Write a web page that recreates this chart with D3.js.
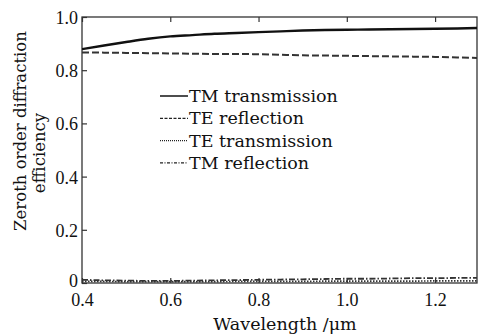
<!DOCTYPE html>
<html>
<head>
<meta charset="utf-8">
<script src="https://cdn.jsdelivr.net/npm/d3@7"></script>
<style>
  body { margin: 0; background: #fff; }
  svg { display: block; }
</style>
</head>
<body>
<div id="chart_area"></div>
<script>

// wavelength in um
var wavelength = [0.40, 0.45, 0.50, 0.55, 0.60, 0.65, 0.70, 0.75, 0.80, 0.85,
                  0.90, 0.95, 1.00, 1.05, 1.10, 1.15, 1.20, 1.25, 1.30];

var tm_transmission = [0.879, 0.893, 0.906, 0.918, 0.927, 0.932, 0.937, 0.940, 0.943, 0.946,
                       0.949, 0.951, 0.952, 0.953, 0.954, 0.955, 0.956, 0.957, 0.959];
var te_reflection   = [0.867, 0.866, 0.865, 0.864, 0.863, 0.862, 0.861, 0.861, 0.860, 0.858,
                       0.856, 0.855, 0.854, 0.853, 0.852, 0.851, 0.850, 0.848, 0.846];
var te_transmission = [0.006, 0.006, 0.005, 0.005, 0.005, 0.005, 0.005, 0.006, 0.006, 0.006,
                       0.006, 0.007, 0.007, 0.007, 0.007, 0.007, 0.008, 0.008, 0.008];
var tm_reflection   = [0.012, 0.010, 0.009, 0.008, 0.008, 0.009, 0.010, 0.011, 0.012, 0.013,
                       0.014, 0.015, 0.016, 0.016, 0.017, 0.018, 0.018, 0.019, 0.019];

var series_names = ["TM transmission", "TE reflection", "TE transmission", "TM reflection"];
var series_dash  = [null, "7,3", "1.5,1.5", "6,2,1.5,2"];
var series_width = [2.4, 2, 1.6, 1.8];
var series_vals  = [tm_transmission, te_reflection, te_transmission, tm_reflection];

var x_ticks = [0.4, 0.6, 0.8, 1.0, 1.2];
var y_ticks = [0, 0.2, 0.4, 0.6, 0.8, 1.0];

var num_font = "'Liberation Serif', 'Times New Roman', serif";
var word_font = "'DejaVu Serif', 'Liberation Serif', serif";

var frame_width = 479, frame_height = 336;
var margin = {top: 17, right: 2, bottom: 53, left: 82};
var canvas_width = frame_width - margin.left - margin.right;
var canvas_height = frame_height - margin.top - margin.bottom;

var frame = d3.select("#chart_area").append("svg")
  .attr("width", frame_width)
  .attr("height", frame_height);

var canvas = frame.append("g")
  .attr("transform", "translate(" + margin.left + "," + margin.top + ")");

var xScale = d3.scaleLinear().domain([0.4, 1.295]).range([0, canvas_width]);
var yScale = d3.scaleLinear().domain([0, 1]).range([canvas_height, 0]);

// axes, ticks pointing inward
var xAxis = d3.axisBottom(xScale).tickValues(x_ticks).tickSizeInner(-5).tickSizeOuter(0)
  .tickPadding(10).tickFormat(d3.format(".1f"));
var yAxis = d3.axisLeft(yScale).tickValues(y_ticks).tickSizeInner(-5).tickSizeOuter(0)
  .tickPadding(4).tickFormat(function(d) { return d === 0 ? "0" : d3.format(".1f")(d); });
var xTop = d3.axisTop(xScale).tickValues(x_ticks).tickSizeInner(-5).tickSizeOuter(0).tickFormat("");

canvas.append("g")
  .attr("class", "x axis")
  .attr("transform", "translate(0," + canvas_height + ")")
  .call(xAxis);
canvas.append("g").attr("class", "y axis").call(yAxis);
canvas.append("g").attr("class", "x axis top").call(xTop);

canvas.selectAll(".axis .domain").remove();
canvas.selectAll(".axis line").attr("stroke", "#333").attr("stroke-width", 1.2);
canvas.selectAll(".axis").attr("font-family", num_font);
canvas.selectAll(".axis text").attr("font-size", 18).attr("fill", "#111");
canvas.selectAll(".y.axis text").attr("dy", function(d) { return d === 0 ? "0.2em" : "0.36em"; });

// frame box
canvas.append("rect")
  .attr("width", canvas_width).attr("height", canvas_height)
  .attr("fill", "none").attr("stroke", "#333").attr("stroke-width", 1.3);

var line = d3.line()
  .x(function(d, i) { return xScale(wavelength[i]); })
  .y(function(d) { return yScale(d); })
  .curve(d3.curveMonotoneX);

canvas.append("clipPath").attr("id", "clip")
  .append("rect").attr("width", canvas_width).attr("height", canvas_height);

canvas.append("g").attr("clip-path", "url(#clip)")
  .selectAll(".series")
  .data(series_vals)
  .enter().append("path")
  .attr("class", "series")
  .attr("d", line)
  .attr("fill", "none")
  .attr("stroke", function(d, i) { return i == 0 ? "#111" : "#333"; })
  .attr("stroke-width", function(d, i) { return series_width[i]; })
  .attr("stroke-dasharray", function(d, i) { return series_dash[i]; });

// legend
var legend = frame.append("g").attr("transform", "translate(160,96)");
var items = legend.selectAll(".item").data(series_names).enter().append("g")
  .attr("transform", function(d, i) { return "translate(0," + i * 22.3 + ")"; });
items.append("line")
  .attr("x1", 0).attr("x2", 28).attr("y1", 0).attr("y2", 0)
  .attr("stroke", "#222")
  .attr("stroke-width", function(d, i) { return i == 0 ? 1.6 : 1.2; })
  .attr("stroke-dasharray", function(d, i) { return series_dash[i] ? ["3,1.5", "1,1", "3,1.5,1,1.5"][i - 1] : null; });
items.append("text")
  .attr("x", 29).attr("y", 6)
  .attr("font-family", word_font)
  .attr("font-size", 17.5)
  .attr("fill", "#111")
  .text(function(d) { return d; });

// axis titles
frame.append("text")
  .attr("x", 285).attr("y", 330)
  .attr("text-anchor", "middle")
  .attr("font-family", word_font).attr("font-size", 17.5).attr("fill", "#111")
  .text("Wavelength /\u03bcm");

frame.append("text")
  .attr("transform", "translate(26,131) rotate(-90)")
  .attr("text-anchor", "middle")
  .attr("font-family", word_font).attr("font-size", 16.5).attr("fill", "#111")
  .text("Zeroth order diffraction");
frame.append("text")
  .attr("transform", "translate(45,153) rotate(-90)")
  .attr("text-anchor", "middle")
  .attr("font-family", word_font).attr("font-size", 16.5).attr("fill", "#111")
  .text("efficiency");

</script>
</body>
</html>
